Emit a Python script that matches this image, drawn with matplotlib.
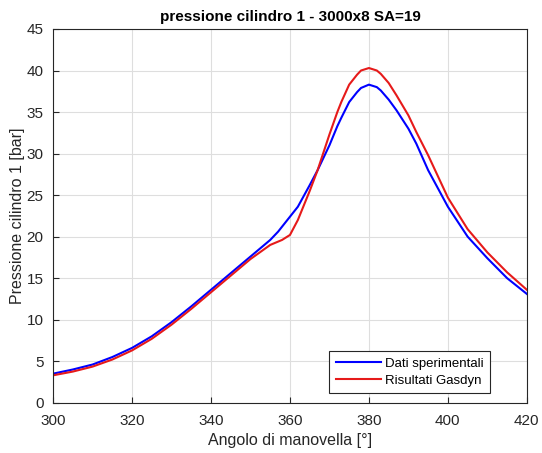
import numpy as np
import matplotlib
matplotlib.use("Agg")
import matplotlib.pyplot as plt

# angolo di manovella [deg]
angolo = [300, 305, 310, 315, 320, 325, 330, 335, 340, 345, 350, 355, 357, 358,
          360, 362, 365, 367, 370, 372, 373, 375, 377, 378, 380, 382, 383, 385, 387,
          390, 392, 395, 400, 405, 410, 415, 420]

# pressione misurata [bar]
p_sper = [3.5, 4.0, 4.6, 5.5, 6.6, 8.0, 9.7, 11.6, 13.6, 15.6, 17.6, 19.6, 20.6, 21.2,
          22.4, 23.6, 26.2, 28.0, 31.0, 33.3, 34.3, 36.2, 37.4, 37.9, 38.3, 38.0, 37.6, 36.5,
          35.2, 33.0, 31.2, 28.0, 23.6, 20.0, 17.4, 15.0, 13.1]

# pressione calcolata Gasdyn [bar]
p_gasdyn = [3.3, 3.75, 4.35, 5.2, 6.3, 7.7, 9.4, 11.3, 13.3, 15.3, 17.3, 19.0, 19.4, 19.6,
            20.2, 22.0, 25.5, 28.0, 32.3, 35.0, 36.2, 38.3, 39.5, 40.0, 40.3, 40.0, 39.6, 38.5,
            37.0, 34.6, 32.6, 29.8, 24.7, 20.9, 18.1, 15.7, 13.6]

plt.rcParams['font.family'] = ['Liberation Sans', 'DejaVu Sans']

fig = plt.figure(figsize=(5.42, 4.53), dpi=100)
ax = fig.add_axes([0.098, 0.111, 0.874, 0.825])

ax.plot(angolo, p_sper, color=(0, 0, 1), lw=1.5, label="Dati sperimentali")
ax.plot(angolo, p_gasdyn, color=(0.9, 0.1, 0.1), lw=1.5, label="Risultati Gasdyn")

ax.set_xlim(300, 420)
ax.set_ylim(0, 45)
ax.set_xticks(np.arange(300, 421, 20))
ax.set_yticks(np.arange(0, 46, 5))
ax.grid(True, color=(0.87, 0.87, 0.87), lw=0.8)
ax.set_axisbelow(True)
ax.tick_params(direction='in', length=4, labelsize=11, colors=(0.15, 0.15, 0.15))
ax.tick_params(axis='x', pad=8)
ax.tick_params(axis='y', pad=7)
for s in ax.spines.values():
    s.set_color((0.15, 0.15, 0.15))
    s.set_linewidth(0.8)

ax.set_title("pressione cilindro 1 - 3000x8 SA=19", fontsize=11, fontweight='bold', pad=6)
ax.set_xlabel("Angolo di manovella [°]", fontsize=11.5, color=(0.15, 0.15, 0.15), labelpad=4)
ax.set_ylabel("Pressione cilindro 1 [bar]", fontsize=11.5, color=(0.15, 0.15, 0.15), labelpad=1)

leg = ax.legend(loc='lower right', bbox_to_anchor=(0.922, 0.025), fontsize=9.5,
                fancybox=False, framealpha=1, edgecolor=(0.15, 0.15, 0.15),
                handlelength=3.4, handletextpad=0.3, borderaxespad=0.0,
                borderpad=0.5, labelspacing=0.35)
leg.get_frame().set_linewidth(0.8)

fig.savefig("out.png", dpi=100)
